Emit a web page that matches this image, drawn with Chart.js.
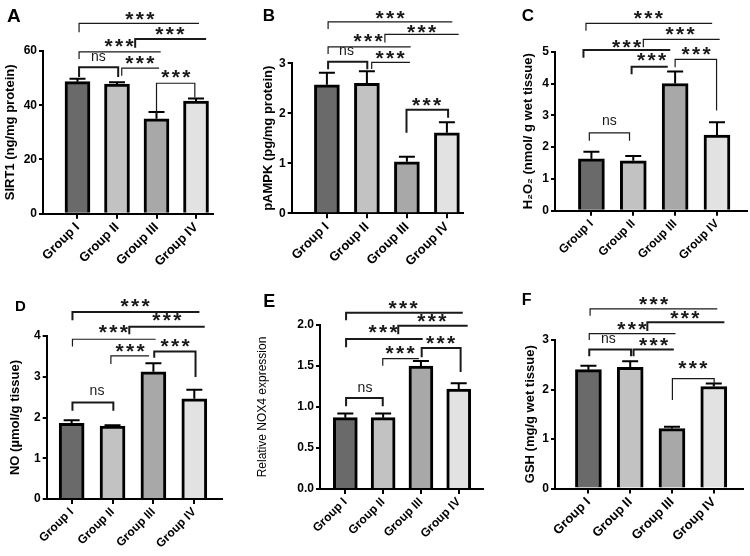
<!DOCTYPE html>
<html>
<head>
<meta charset="utf-8">
<script src="https://cdn.jsdelivr.net/npm/chart.js@4.4.1/dist/chart.umd.min.js"></script>
<style>
  body { margin:0; background:#fff; }
  #wrap { position:relative; width:750px; height:556px; overflow:hidden; }
  #wrap canvas { position:absolute; }
</style>
</head>
<body>
<div id="wrap">
  <canvas id="pA" width="250" height="280" style="left:0;top:0"></canvas>
  <canvas id="pB" width="250" height="280" style="left:250px;top:0"></canvas>
  <canvas id="pC" width="250" height="280" style="left:500px;top:0"></canvas>
  <canvas id="pD" width="250" height="276" style="left:0;top:280px"></canvas>
  <canvas id="pE" width="250" height="276" style="left:250px;top:280px"></canvas>
  <canvas id="pF" width="250" height="276" style="left:500px;top:280px"></canvas>
</div>
<script>
// DATA

const groups = ['Group I', 'Group II', 'Group III', 'Group IV'];

const sirt1    = [48.7, 47.8, 35.0, 41.5];
const sirt1Sem = [1.1, 0.7, 2.5, 1.0];
const sirt1Ticks = [0, 20, 40, 60];

const pampk    = [2.57, 2.60, 1.03, 1.61];
const pampkSem = [0.24, 0.24, 0.10, 0.21];
const pampkTicks = [0, 1, 2, 3];

const h2o2    = [1.63, 1.57, 4.00, 2.38];
const h2o2Sem = [0.22, 0.15, 0.38, 0.40];
const h2o2Ticks = [0, 1, 2, 3, 4, 5];

const no    = [1.86, 1.79, 3.12, 2.46];
const noSem = [0.07, 0.02, 0.21, 0.22];
const noTicks = [0, 1, 2, 3, 4];

const nox4    = [0.87, 0.87, 1.50, 1.22];
const nox4Sem = [0.05, 0.05, 0.06, 0.07];
const nox4Ticks = [0, 0.5, 1.0, 1.5, 2.0];

const gsh    = [2.40, 2.45, 1.21, 2.06];
const gshSem = [0.08, 0.12, 0.04, 0.06];
const gshTicks = [0, 1, 2, 3];

// significance brackets, in axis units (x = group index, y = value)
const sirt1Sig = [
  {x1:1.04, x2:4.06, y:70.2, l1:67.1, t:'***', tx:2.58, ty:73.6, w:1.2},
  {x1:2.46, x2:4.23, y:64.4, l1:61.6, t:'***', tx:3.34, ty:68.0, w:2},
  {x1:1.04, x2:3.09, y:59.7, l1:57.3, t:'***', tx:2.05, ty:63.8, w:1.2},
  {x1:1.04, x2:2.03, y:54.0, l1:50.8, l2:50.8, t:'ns', tx:1.53, ty:57.7, w:2},
  {x1:2.12, x2:3.05, y:53.7, l1:51.1, t:'***', tx:2.58, ty:57.3, w:1.2},
  {x1:3.00, x2:3.97, y:48.1, l1:37.0, l2:43.1, t:'***', tx:3.49, ty:52.3, w:1.2}
];
const pampkSig = [
  {x1:1.03, x2:4.12, y:3.83, l1:3.70, t:'***', tx:2.58, ty:4.00, w:1.2},
  {x1:2.45, x2:4.28, y:3.58, l1:3.43, t:'***', tx:3.37, ty:3.73, w:1.2},
  {x1:1.03, x2:3.08, y:3.33, l1:3.20, t:'***', tx:2.03, ty:3.55, w:1.2},
  {x1:1.03, x2:2.01, y:3.03, l1:2.90, l2:2.90, t:'ns', tx:1.49, ty:3.23, w:2},
  {x1:2.12, x2:3.06, y:3.02, l1:2.90, t:'***', tx:2.58, ty:3.20, w:1.2},
  {x1:2.99, x2:4.03, y:2.07, l1:1.63, l2:1.93, t:'***', tx:3.49, ty:2.27, w:2}
];
const h2o2Sig = [
  {x1:0.87, x2:3.87, y:5.89, l1:5.68, t:'***', tx:2.36, ty:6.21, w:1.2},
  {x1:2.24, x2:4.05, y:5.39, l1:5.16, t:'***', tx:3.12, ty:5.70, w:1.2},
  {x1:0.81, x2:2.86, y:5.05, l1:4.84, t:'***', tx:1.84, ty:5.31, w:2},
  {x1:1.96, x2:2.80, y:4.53, l1:4.32, t:'***', tx:2.44, ty:4.90, w:2},
  {x1:3.00, x2:3.99, y:4.76, l1:4.53, l2:3.17, t:'***', tx:3.50, ty:5.07, w:1.2},
  {x1:0.95, x2:1.91, y:2.45, l1:2.22, l2:2.22, t:'ns', tx:1.43, ty:2.80, w:1.2}
];
const noSig = [
  {x1:1.02, x2:4.10, y:4.59, l1:4.41, t:'***', tx:2.55, ty:4.85, w:2},
  {x1:2.41, x2:4.23, y:4.23, l1:4.07, t:'***', tx:3.33, ty:4.52, w:2},
  {x1:1.02, x2:3.04, y:3.92, l1:3.76, t:'***', tx:2.02, ty:4.21, w:1.2},
  {x1:1.96, x2:2.88, y:3.51, l1:3.33, t:'***', tx:2.43, ty:3.76, w:1.2},
  {x1:3.02, x2:4.03, y:3.62, l1:3.49, l2:3.02, t:'***', tx:3.53, ty:3.88, w:2},
  {x1:1.02, x2:2.02, y:2.37, l1:2.19, l2:2.19, t:'ns', tx:1.62, ty:2.64, w:2}
];
const nox4Sig = [
  {x1:1.02, x2:4.08, y:2.15, l1:2.07, t:'***', tx:2.53, ty:2.27, w:2},
  {x1:2.40, x2:4.21, y:1.99, l1:1.90, t:'***', tx:3.29, ty:2.11, w:2},
  {x1:1.02, x2:3.02, y:1.83, l1:1.74, t:'***', tx:2.00, ty:1.98, w:2},
  {x1:1.99, x2:2.93, y:1.59, l1:1.51, t:'***', tx:2.45, ty:1.72, w:1.2},
  {x1:3.02, x2:4.05, y:1.72, l1:1.62, l2:1.44, t:'***', tx:3.52, ty:1.84, w:2},
  {x1:1.02, x2:1.99, y:1.11, l1:1.02, l2:1.02, t:'ns', tx:1.52, ty:1.23, w:2}
];
const gshSig = [
  {x1:1.04, x2:4.07, y:3.63, l1:3.50, t:'***', tx:2.56, ty:3.83, w:1.2},
  {x1:2.41, x2:4.23, y:3.36, l1:3.20, t:'***', tx:3.31, ty:3.55, w:2},
  {x1:1.02, x2:3.07, y:3.13, l1:3.01, t:'***', tx:2.04, ty:3.33, w:1.2},
  {x1:1.02, x2:2.02, y:2.81, l1:2.69, l2:2.69, t:'ns', tx:1.48, ty:3.02, w:2},
  {x1:2.08, x2:3.02, y:2.81, l1:2.69, t:'***', tx:2.56, ty:3.00, w:2},
  {x1:3.01, x2:4.01, y:2.22, l1:1.80, l2:2.08, t:'***', tx:3.50, ty:2.54, w:1.2}
];

// LAYOUT

const barColors = ['#6a6a6a', '#c2c2c2', '#a8a8a8', '#e2e2e2'];
const SANS = "'Liberation Sans', Arial, sans-serif";
Chart.defaults.font.family = SANS;
Chart.defaults.color = '#000';

const panels = [
  {id:'pA', letter:'A', lx:7, ly:22, ls:19, values:sirt1, sem:sirt1Sem, ticks:sirt1Ticks, sig:sirt1Sig,
   title:'SIRT1 (ng/mg protein)', titleX:10, box:{left:43, right:213, top:51, bottom:213.7}, xr:[0.127, 4.43], barW:25, alt:false},
  {id:'pB', letter:'B', lx:12.7, ly:20.7, ls:17, values:pampk, sem:pampkSem, ticks:pampkTicks, sig:pampkSig,
   title:'pAMPK (pg/mg protein)', titleX:18, box:{left:41.7, right:213.3, top:63.3, bottom:213.3}, xr:[0.12, 4.41], barW:25, alt:false},
  {id:'pC', letter:'C', lx:21.7, ly:20.7, ls:17, values:h2o2, sem:h2o2Sem, ticks:h2o2Ticks, sig:h2o2Sig,
   title:'H\u2082O\u2082 (nmol/ g wet tissue)', titleX:28, box:{left:55, right:246.7, top:51.7, bottom:210.7}, xr:[0.13, 4.71], barW:26, alt:true},
  {id:'pD', letter:'D', lx:15, ly:30.7, ls:15, values:no, sem:noSem, ticks:noTicks, sig:noSig,
   title:'NO (\u00b5mol/g tissue)', titleX:15, box:{left:46.7, right:221.7, top:56, bottom:219}, xr:[0.39, 4.67], barW:25, alt:true},
  {id:'pE', letter:'E', lx:13.3, ly:26.7, ls:18, values:nox4, sem:nox4Sem, ticks:nox4Ticks, sig:nox4Sig, dec:1,
   title:'Relative NOX4 expression', titleX:13, titleFont:{size:12, weight:'normal'}, box:{left:70, right:233.3, top:45, bottom:209}, xr:[0.33, 4.65], barW:24, alt:true},
  {id:'pF', letter:'F', lx:21.7, ly:25, ls:16, values:gsh, sem:gshSem, ticks:gshTicks, sig:gshSig,
   title:'GSH (mg/g wet tissue)', titleX:30, box:{left:55, right:243, top:60, bottom:208.5}, xr:[0.2, 4.7], barW:26, alt:false}
];

// error bars, brackets and panel letter
function extras(p){
  return {
    id:'extras',
    afterDatasetsDraw(chart){
      const {ctx, scales:{x, y}} = chart;
      ctx.save();
      ctx.strokeStyle = '#000';
      ctx.lineWidth = 2;
      p.values.forEach((v, i) => {
        const px = x.getPixelForValue(i + 1);
        const y0 = y.getPixelForValue(v);
        const y1 = y.getPixelForValue(v + p.sem[i]);
        ctx.beginPath();
        ctx.moveTo(px, y0); ctx.lineTo(px, y1);
        ctx.moveTo(px - 8, y1); ctx.lineTo(px + 8, y1);
        ctx.stroke();
      });
      ctx.restore();
    },
    afterDraw(chart){
      const {ctx, scales:{x, y}} = chart;
      ctx.save();
      ctx.strokeStyle = '#1a1a1a';
      ctx.fillStyle = '#1a1a1a';
      ctx.lineCap = 'square';
      p.sig.forEach(b => {
        const X1 = x.getPixelForValue(b.x1), X2 = x.getPixelForValue(b.x2);
        const Y = y.getPixelForValue(b.y);
        ctx.lineWidth = b.w;
        ctx.beginPath();
        ctx.moveTo(X1, y.getPixelForValue(b.l1));
        ctx.lineTo(X1, Y);
        ctx.lineTo(X2, Y);
        if (b.l2 != null) ctx.lineTo(X2, y.getPixelForValue(b.l2));
        ctx.stroke();

        const tx = x.getPixelForValue(b.tx), ty = y.getPixelForValue(b.ty);
        ctx.textAlign = 'center';
        ctx.textBaseline = 'alphabetic';
        if (b.t === 'ns') {
          ctx.font = 'normal 14px ' + SANS;
          ctx.fillText('ns', tx, ty + 3.6);
        } else {
          ctx.font = 'bold 21px ' + SANS;
          [-10.5, 0, 10.5].forEach(d => ctx.fillText('*', tx + d, ty + 12));
        }
      });
      ctx.font = 'bold ' + p.ls + 'px ' + SANS;
      ctx.fillStyle = '#000';
      ctx.textAlign = 'left';
      ctx.fillText(p.letter, p.lx, p.ly);
      ctx.restore();
    }
  };
}

function makePanel(p){
  const canvas = document.getElementById(p.id);
  const W = canvas.width, H = canvas.height;
  const titleFont = p.titleFont || {size:13, weight:'bold'};
  const groupFont = p.alt ? {size:12, weight:'bold'} : {size:13, weight:'bold'};
  new Chart(canvas, {
    type:'bar',
    data:{
      datasets:[{
        data:p.values.map((v, i) => ({x:i + 1, y:v})),
        backgroundColor:barColors,
        borderColor:'#000',
        borderWidth:3,
        barThickness:p.barW
      }]
    },
    options:{
      responsive:false,
      animation:false,
      devicePixelRatio:1,
      layout:{padding:{top:p.box.top, right:W - p.box.right, left:0, bottom:0}},
      plugins:{legend:{display:false}, tooltip:{enabled:false}},
      scales:{
        x:{
          type:'linear',
          min:p.xr[0], max:p.xr[1],
          offset:false,
          afterBuildTicks:s => { s.ticks = groups.map((g, i) => ({value:i + 1})); },
          afterFit:s => { s.height = H - p.box.bottom; },
          ticks:{
            callback:v => groups[v - 1],
            minRotation:45, maxRotation:45, autoSkip:false,
            color:'#000', font:groupFont, padding:1
          },
          grid:{display:true, drawOnChartArea:false, drawTicks:true, tickLength:5, lineWidth:2, color:'#000', offset:false},
          border:{display:true, color:'#000', width:2}
        },
        y:{
          min:0, max:p.ticks[p.ticks.length - 1],
          afterBuildTicks:s => { s.ticks = p.ticks.map(v => ({value:v})); },
          afterFit:s => { s.width = p.box.left; },
          ticks:{
            callback:v => p.dec ? v.toFixed(p.dec) : v,
            color:'#000', font:{size:12, weight:'bold'}, padding:2
          },
          grid:{display:true, drawOnChartArea:false, drawTicks:true, tickLength:4, lineWidth:2, color:'#000'},
          border:{display:true, color:'#000', width:2},
          title:{
            display:true, text:p.title, color:'#000', font:titleFont,
            padding:{top:p.titleX - titleFont.size * 0.6, bottom:0}
          }
        }
      }
    },
    plugins:[extras(p)]
  });
}

panels.forEach(makePanel);
</script>
</body>
</html>
